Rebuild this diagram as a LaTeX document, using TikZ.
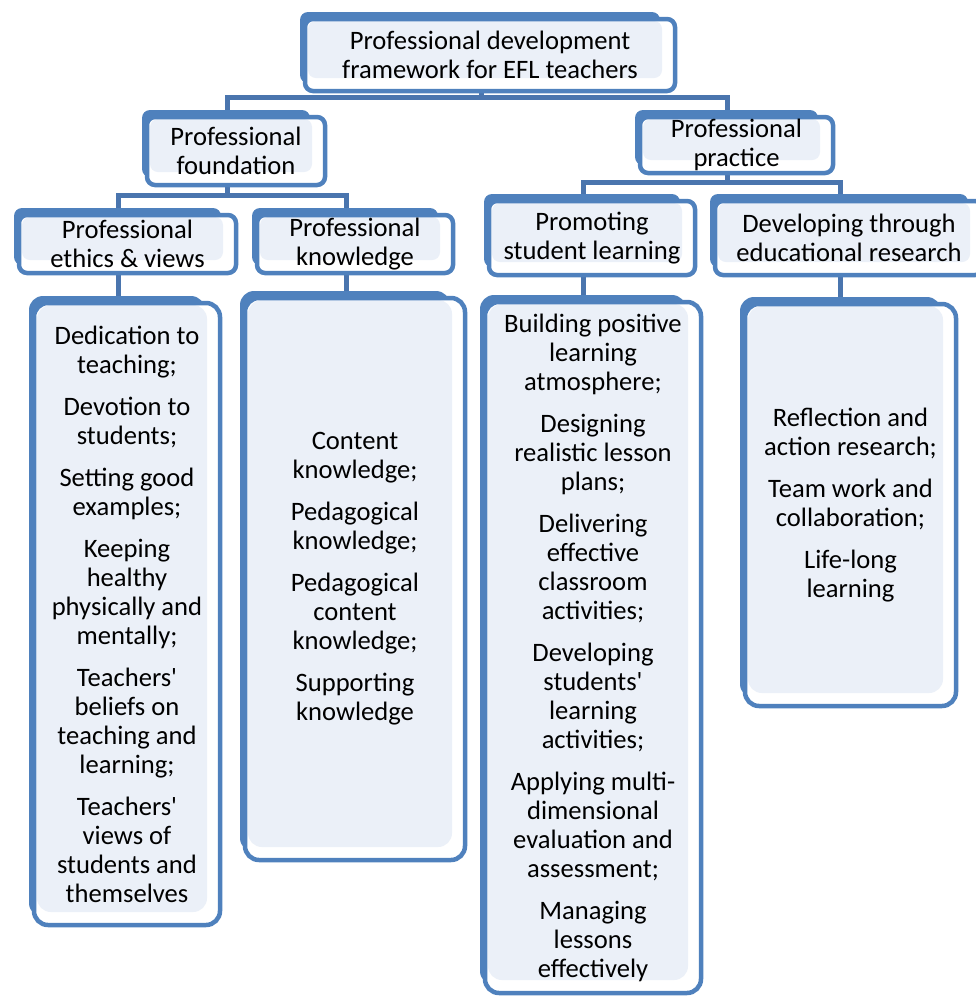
\documentclass[tikz,border=0pt]{standalone}
\usepackage{fontspec}
\setmainfont{Carlito}
\usetikzlibrary{backgrounds}
\definecolor{pdblue}{HTML}{4F81BD}
\definecolor{pdlight}{HTML}{EBF0F8}
\definecolor{pdline}{HTML}{4A75AE}
\tikzset{
    pdbox/.style = {draw=pdblue, line width=4.5pt, fill=white,
        rounded corners=#1, inner sep=0pt, outer sep=0pt, align=center,
        font=\fontsize{26.6}{29}\selectfont,
        path picture={\fill[pdlight,rounded corners=#1]
            ([shift={(3pt,-2pt)}]path picture bounding box.north west) rectangle
            ([shift={(-13pt,13pt)}]path picture bounding box.south east);}
     },
    pdbox/.default = 8pt,
    boxsize/.style 2 args = {minimum width=#1pt, minimum height=#2pt},
    link/.style = {draw=pdline, line width=5pt}
}
\begin{document}
\begin{tikzpicture}[x=1pt,y=-1pt]
        \useasboundingbox (0,0) rectangle (976,997);
        % heading boxes
        \node[pdbox,boxsize={370}{72}] (root) at (490,55) {Professional development\\framework for EFL teachers};
        \node[pdbox,boxsize={178}{68}] (found) at (236,151) {Professional\\foundation};
        \node[pdbox,boxsize={193}{56}] (pract) at (736.5,145) {Professional\\practice};
        \node[pdbox,boxsize={217}{58}] (ethics) at (127.5,244) {Professional\\ethics \& views};
        \node[pdbox,boxsize={196}{58}] (know) at (355,244) {Professional\\knowledge};
        \node[pdbox,boxsize={206}{74}] (promo) at (592,238) {Promoting\\student learning};
        \node[pdbox,boxsize={268}{74}] (research) at (849,238) {Developing through\\educational research};
        % lists
        \node[pdbox=14pt,boxsize={186}{622}] (ethicsL) at (127,614)
            {Dedication to\\teaching;\\[13pt]Devotion to\\students;\\[13pt]Setting good\\examples;\\[13pt]Keeping\\healthy\\physically and\\mentally;\\[13pt]Teachers\textquotesingle\\beliefs on\\teaching and\\learning;\\[13pt]Teachers\textquotesingle\\views of\\students and\\themselves};
        \node[pdbox=14pt,boxsize={220}{562}] (knowL) at (355,579)
            {Content\\knowledge;\\[13pt]Pedagogical\\knowledge;\\[13pt]Pedagogical\\content\\knowledge;\\[13pt]Supporting\\knowledge};
        \node[pdbox=14pt,boxsize={216}{691}] (promoL) at (593,647.5)
            {Building positive\\learning\\atmosphere;\\[13pt]Designing\\realistic lesson\\plans;\\[13pt]Delivering\\effective\\classroom\\activities;\\[13pt]Developing\\students\textquotesingle\\learning\\activities;\\[13pt]Applying multi-\\dimensional\\evaluation and\\assessment;\\[13pt]Managing\\lessons\\effectively};
        \node[pdbox=14pt,boxsize={211}{402}] (researchL) at (850.5,505)
            {Reflection and\\action research;\\[13pt]Team work and\\collaboration;\\[13pt]Life-long\\learning};
        \begin{scope}[on background layer]
        \foreach \a/\b/\h in {root/found/6,root/pract/6,found/ethics/10,found/know/10,pract/promo/9,pract/research/9}
            {\draw[link] ([xshift=-9pt]\a.south) -- ++(0,\h) -| ([xshift=-9pt]\b.north);}
        \foreach \a/\b in {ethics/ethicsL,know/knowL,promo/promoL,research/researchL}
            {\draw[link] ([xshift=-9pt]\a.south) -- ([xshift=-9pt]\a.south |- \b.north);}
        \foreach \n in {root,found,pract,ethics,know,promo,research}
            {\fill[pdblue,rounded corners=8pt] ([shift={(-5pt,7pt)}]\n.north west) rectangle ([shift={(-15pt,8pt)}]\n.south east);}
        \foreach \n in {ethicsL,knowL,promoL,researchL}
            {\fill[pdblue,rounded corners=14pt] ([shift={(-5pt,7pt)}]\n.north west) rectangle ([shift={(-15pt,8pt)}]\n.south east);}
        \end{scope}
\end{tikzpicture}
\end{document}
